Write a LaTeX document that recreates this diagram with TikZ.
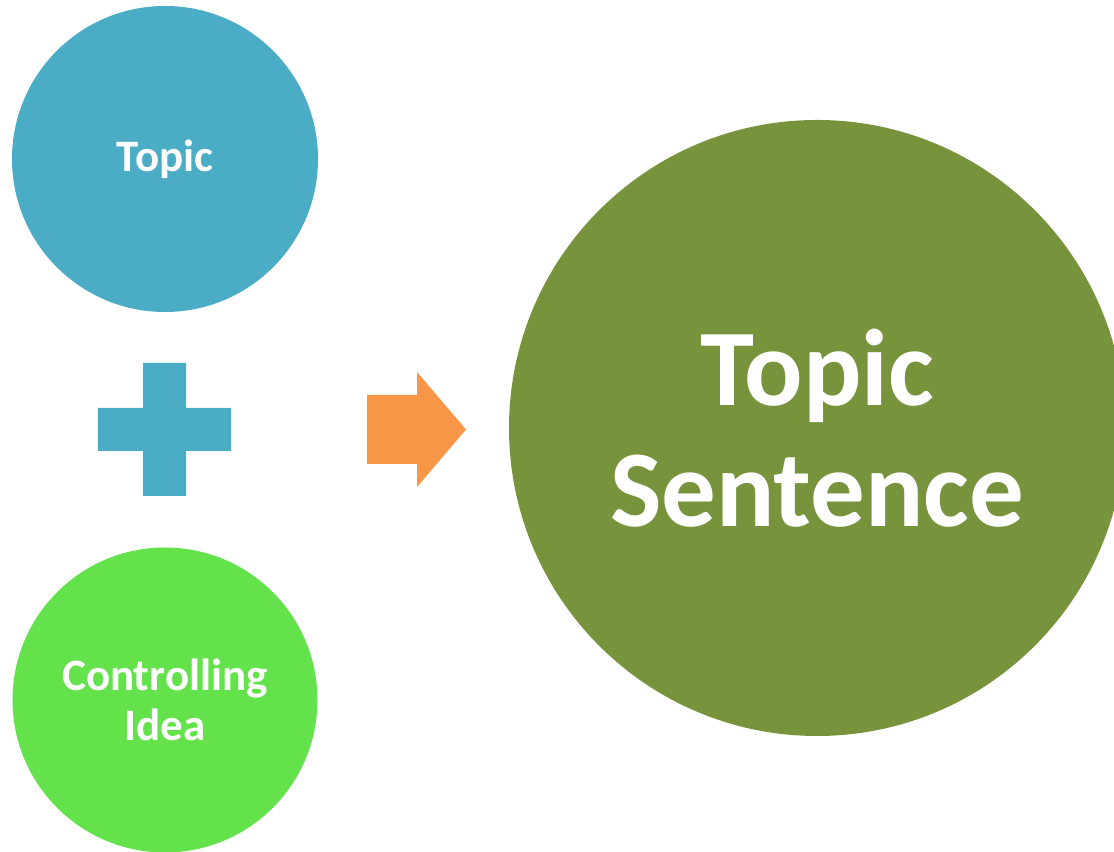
\documentclass[tikz,border=0pt]{standalone}
\usepackage{fontspec}
\setmainfont{Carlito}
\definecolor{topicblue}{RGB}{75, 172, 198}
\definecolor{ideagreen}{RGB}{99, 226, 75}
\definecolor{sentolive}{RGB}{119, 147, 60}
\definecolor{arroworange}{RGB}{247, 150, 70}
\usetikzlibrary{positioning}

\tikzset{
  bubble/.style={circle, inner sep=0pt, text=white, align=center, font=\bfseries\fontsize{12.8}{14.4}\selectfont}
}

\begin{document}
\begin{tikzpicture}
  \clip (0, 0) rectangle (11.14, 8.52);
  \fill[white] (0, 0) rectangle (11.14, 8.52);

  % Topic (top left)
  \node[bubble, fill=topicblue, minimum size=3.06cm] (topic) at (1.65, 6.93) {Topic};

  % Plus sign
  \fill[topicblue] (1.43, 3.56) -- (1.86, 3.56) -- (1.86, 4.01) -- (2.31, 4.01) -- (2.31, 4.44)
    -- (1.86, 4.44) -- (1.86, 4.89) -- (1.43, 4.89) -- (1.43, 4.44) -- (0.98, 4.44)
    -- (0.98, 4.01) -- (1.43, 4.01) -- cycle;

  % Controlling idea (bottom left)
  \node[bubble, fill=ideagreen, minimum size=3.05cm] (idea) at (1.65, 1.52) {Controlling\\Idea};

  % Arrow
  \fill[arroworange] (3.67, 3.88) -- (4.17, 3.88) -- (4.17, 3.65) -- (4.66, 4.225)
    -- (4.17, 4.80) -- (4.17, 4.57) -- (3.67, 4.57) -- cycle;

  % Topic sentence (right)
  \node[bubble, fill=sentolive, minimum size=6.16cm, font=\bfseries\fontsize{31}{34.3}\selectfont] (sentence) at (8.17, 4.24) {Topic\\Sentence};
\end{tikzpicture}
\end{document}
